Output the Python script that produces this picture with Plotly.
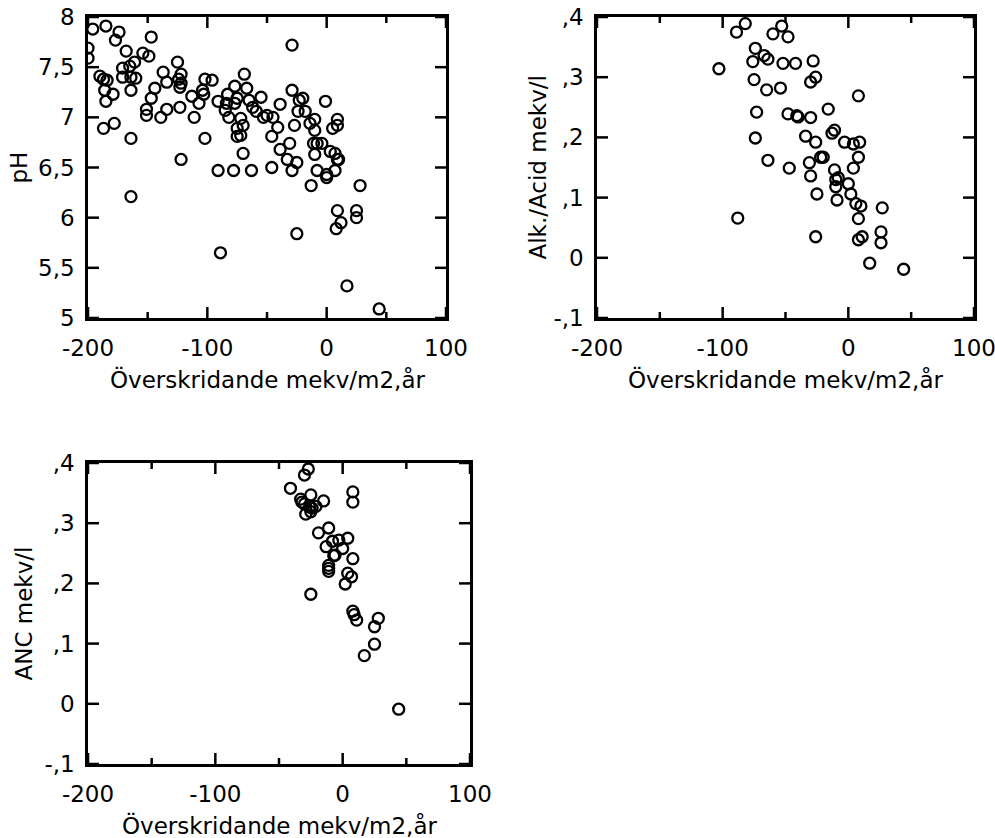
import plotly.graph_objects as go

# Panel 1: pH vs exceedance
ph_x = [-196, -185, -174, -177, -147, -200, -200, -168, -154, -149, -161,
        -171, -165, -171, -164, -160, -164,
        -190, -187, -184, -186, -179, -185, -187, -178, -164, -164,
        -137, -134, -144, -147, -151, -151, -139, -134,
        -125, -122, -124, -122, -123, -123, -122,
        -113, -111, -107, -104, -102, -103, -96, -102, -91, -84, -83, -85, -82, -91, -89,
        -77, -75, -77, -69, -75, -75, -70, -78,
        -29, -67, -65, -62, -55, -39, -29, -23, -20, -1, -24, -18, -59, -53, -50, -45,
        -72, -70, -41, -27, -14, -10, -10, 9, 9, 5, -72, -46, -31, -39,
        -11, -8, -4, 3, 7, 9, 10, -10, -33, -25, -29, -63, -46, -8, 0, 7,
        -13, 28, 0, 9, 25, 25, 12, 8, -25, 17, 44]
ph_y = [7.88, 7.91, 7.85, 7.77, 7.80, 7.69, 7.59, 7.66, 7.64, 7.61, 7.55,
        7.49, 7.51, 7.40, 7.40, 7.39, 7.27,
        7.41, 7.38, 7.37, 7.27, 7.23, 7.16, 6.89, 6.94, 6.79, 6.21,
        7.45, 7.35, 7.29, 7.19, 7.08, 7.02, 7.00, 7.08,
        7.55, 7.43, 7.38, 7.34, 7.30, 7.10, 6.58,
        7.21, 7.00, 7.14, 7.27, 7.38, 7.23, 7.37, 6.79, 7.16, 7.14, 7.23, 7.07, 7.00, 6.47, 5.65,
        7.31, 7.19, 7.14, 7.43, 6.89, 6.81, 6.64, 6.47,
        7.72, 7.29, 7.17, 7.10, 7.20, 7.13, 7.27, 7.17, 7.19, 7.16, 7.06, 7.06, 7.06, 7.00, 7.02, 7.00,
        6.99, 6.92, 6.90, 6.92, 6.94, 6.98, 6.87, 6.98, 6.92, 6.89, 6.82, 6.81, 6.74, 6.68,
        6.74, 6.74, 6.74, 6.66, 6.64, 6.58, 6.58, 6.63, 6.58, 6.55, 6.47, 6.47, 6.50, 6.47, 6.43, 6.47,
        6.32, 6.32, 6.40, 6.07, 6.07, 6.00, 5.95, 5.89, 5.84, 5.32, 5.09]

# Panel 2: alkalinity/acidity vs exceedance
alk_x = [-103, -89, -82, -74, -76, -75, -73, -74, -67, -64, -65, -64,
         -53, -60, -48, -52, -42, -28, -26, -30, -54, 8, -16, -48, -41, -40, -30,
         -11, -13, -34, -26, -3, 4, 9, -22, -20, 8, -47, -31, -30, -11, -8, -10,
         4, 0, -10, -25, 2,
         -9, 6, 10, 27, 8, -26, 11, 8, 26, 26, 17, 44, -88]
alk_y = [0.314, 0.375, 0.389, 0.348, 0.326, 0.296, 0.242, 0.199, 0.336, 0.330, 0.279, 0.162,
         0.385, 0.372, 0.367, 0.323, 0.323, 0.327, 0.300, 0.292, 0.282, 0.269, 0.247, 0.239, 0.236, 0.234, 0.233,
         0.212, 0.207, 0.202, 0.192, 0.192, 0.189, 0.192, 0.167, 0.167, 0.167, 0.149, 0.158, 0.136, 0.146, 0.133, 0.130,
         0.149, 0.123, 0.118, 0.106, 0.106,
         0.096, 0.090, 0.086, 0.083, 0.065, 0.035, 0.035, 0.030, 0.043, 0.025, -0.009, -0.019, 0.066]

# Panel 3: ANC vs exceedance
anc_x = [-27, -30, -41, -25, -33, -32, -15, -30, -26, -24, -21, -29, -25, 8, 8,
         -11, -19, -8, -3, 4, -13, 0, -7, -6, 8, -11, -11, -11, 4, 7, 2, -25,
         8, 9, 11, 28, 25, 25, 17, 44]
anc_y = [0.390, 0.380, 0.358, 0.347, 0.340, 0.335, 0.337, 0.332, 0.327, 0.325, 0.328, 0.315, 0.319, 0.352, 0.335,
         0.292, 0.284, 0.270, 0.272, 0.275, 0.261, 0.258, 0.246, 0.247, 0.241, 0.230, 0.225, 0.220, 0.217, 0.211, 0.199, 0.182,
         0.154, 0.148, 0.139, 0.142, 0.128, 0.099, 0.080, -0.009]

x_ticks = [-200, -100, 0, 100]
x_ticktext = ["-200", "-100", "0", "100"]
x_minor = [-150, -50, 50]
ph_ticks = [5, 5.5, 6, 6.5, 7, 7.5, 8]
ph_ticktext = ["5", "5,5", "6", "6,5", "7", "7,5", "8"]
mekv_ticks = [-0.1, 0, 0.1, 0.2, 0.3, 0.4]
mekv_ticktext = ["-,1", "0", ",1", ",2", ",3", ",4"]

x_title = "Överskridande mekv/m2,år"

W, H = 995, 838
FONT = "DejaVu Sans, Verdana, sans-serif"
TICK_SIZE = 23
TITLE_SIZE = 23
MAJOR_LEN, MINOR_LEN = 11, 6
X_RANGE = [-200, 100]

# pixel boxes of the three plotting areas: (left, right, top, bottom)
boxes = {
    1: (88, 446, 17, 318),
    2: (597, 974, 17, 318),
    3: (88, 470, 463, 764),
}
y_ranges = {1: [5, 8], 2: [-0.1, 0.4], 3: [-0.1, 0.4]}
y_tickinfo = {1: (ph_ticks, ph_ticktext), 2: (mekv_ticks, mekv_ticktext), 3: (mekv_ticks, mekv_ticktext)}
series = {1: (ph_x, ph_y), 2: (alk_x, alk_y), 3: (anc_x, anc_y)}

marker = dict(symbol="circle-open", size=11, color="black", line=dict(width=2.3, color="black"))
tickfont = dict(family=FONT, size=TICK_SIZE, color="black")
base = dict(showgrid=False, zeroline=False, automargin=False, ticks="",
            showline=True, linewidth=2.5, linecolor="black", mirror=True,
            tickfont=tickfont, ticklabeloverflow="allow")

fig = go.Figure()
layout = {}
for i, (l, r, t, b) in boxes.items():
    sfx = "" if i == 1 else str(i)
    xs, ys = series[i]
    fig.add_trace(go.Scatter(x=xs, y=ys, mode="markers", marker=marker,
                             xaxis="x" + sfx, yaxis="y" + sfx, showlegend=False))

    yv, yt = y_tickinfo[i]
    y0, y1 = y_ranges[i]
    x0, x1 = X_RANGE
    # inward tick marks on all four frame sides, lengths converted from pixels to data units
    dy_major = MAJOR_LEN / (b - t) * (y1 - y0)
    dy_minor = MINOR_LEN / (b - t) * (y1 - y0)
    dx_major = MAJOR_LEN / (r - l) * (x1 - x0)
    tx, ty = [], []
    for vals, d in ((x_ticks, dy_major), (x_minor, dy_minor)):
        for v in vals:
            tx += [v, v, None, v, v, None]
            ty += [y0, y0 + d, None, y1, y1 - d, None]
    for v in yv:
        tx += [x0, x0 + dx_major, None, x1, x1 - dx_major, None]
        ty += [v, v, None, v, v, None]
    fig.add_trace(go.Scatter(x=tx, y=ty, mode="lines", line=dict(color="black", width=2.5),
                             xaxis="x" + sfx, yaxis="y" + sfx, showlegend=False,
                             hoverinfo="skip", connectgaps=False))

    xdom = [l / W, r / W]
    ydom = [1 - b / H, 1 - t / H]
    layout["xaxis" + sfx] = dict(base, domain=xdom, anchor="y" + sfx, range=X_RANGE,
                                 tickmode="array", tickvals=x_ticks, ticktext=x_ticktext,
                                 ticklabelstandoff=8)
    layout["yaxis" + sfx] = dict(base, domain=ydom, anchor="x" + sfx, range=y_ranges[i],
                                 tickmode="array", tickvals=yv, ticktext=yt,
                                 ticklabelstandoff=6)

fig.update_layout(template="none", width=W, height=H,
                  margin=dict(l=0, r=0, t=0, b=0, autoexpand=False),
                  paper_bgcolor="white", plot_bgcolor="white", **layout)

# axis titles placed as paper annotations
y_titles = {1: ("pH", 19), 2: ("Alk./Acid mekv/l", 538), 3: ("ANC mekv/l", 23)}
for i, (l, r, t, b) in boxes.items():
    fig.add_annotation(text=x_title, x=(l + r) / 2 / W, y=1 - (b + 61) / H,
                       xref="paper", yref="paper", showarrow=False,
                       xanchor="center", yanchor="middle",
                       font=dict(family=FONT, size=TITLE_SIZE, color="black"))
    txt, xc = y_titles[i]
    fig.add_annotation(text=txt, x=xc / W, y=1 - (t + b) / 2 / H,
                       xref="paper", yref="paper", showarrow=False, textangle=-90,
                       xanchor="center", yanchor="middle",
                       font=dict(family=FONT, size=TITLE_SIZE, color="black"))

fig.write_html("out.html")
